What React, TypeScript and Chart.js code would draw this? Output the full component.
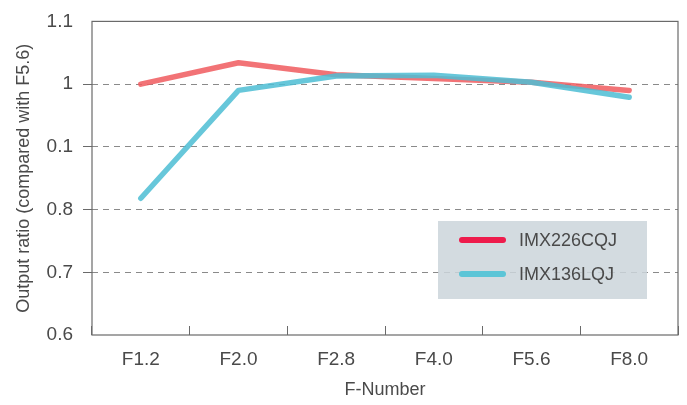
import React, { useEffect, useRef } from "react";
import { Chart, registerables } from "chart.js";

Chart.register(...registerables);

const CATEGORIES = ["F1.2", "F2.0", "F2.8", "F4.0", "F5.6", "F8.0"];
const SERIES_NAMES = ["IMX226CQJ", "IMX136LQJ"];
const IMX226CQJ = [1.0, 1.034, 1.015, 1.009, 1.003, 0.99];
const IMX136LQJ = [0.818, 0.99, 1.013, 1.014, 1.003, 0.979];
const Y_TICK_LABELS = ["0.6", "0.7", "0.8", "0.1", "1", "1.1"];
const LINE_COLORS = ["rgba(240,92,96,0.86)", "rgba(78,190,212,0.86)"];
const LEGEND_COLORS = ["#EE1C4C", "#5BC5D7"];

const FONT = "'Liberation Sans', Arial, sans-serif";
const TEXT = "#4a4a4a";

const framePlugin = {
  id: "frame",
  beforeDatasetsDraw(chart: any) {
    const { ctx, chartArea } = chart;
    ctx.save();
    ctx.strokeStyle = "#6a6a6a";
    ctx.lineWidth = 1.2;
    ctx.strokeRect(chartArea.left, chartArea.top, chartArea.right - chartArea.left, chartArea.bottom - chartArea.top);
    ctx.restore();
  },
  afterDatasetsDraw(chart: any) {
    const { ctx, chartArea } = chart;
    const w = 209, h = 78;
    const x = chartArea.right - 31 - w;
    const y = chartArea.bottom - 36 - h;
    ctx.save();
    ctx.fillStyle = "rgba(203,213,219,0.85)";
    ctx.fillRect(x, y, w, h);
    ctx.lineCap = "round";
    ctx.lineWidth = 6;
    ctx.font = `18px ${FONT}`;
    ctx.textBaseline = "middle";
    SERIES_NAMES.forEach((name, i) => {
      const ly = y + 19 + i * 34;
      ctx.strokeStyle = LEGEND_COLORS[i];
      ctx.beginPath();
      ctx.moveTo(x + 24, ly);
      ctx.lineTo(x + 65, ly);
      ctx.stroke();
      ctx.fillStyle = TEXT;
      ctx.fillText(name, x + 81, ly + 1);
    });
    ctx.restore();
  },
};

export default function App() {
  const ref = useRef<HTMLCanvasElement | null>(null);
  useEffect(() => {
    if (!ref.current) return;
    const chart = new Chart(ref.current, {
      type: "line",
      data: {
        labels: CATEGORIES,
        datasets: [
          {
            label: SERIES_NAMES[0],
            data: IMX226CQJ,
            borderColor: LINE_COLORS[0],
            borderWidth: 5.5,
            pointRadius: 0,
            borderCapStyle: "round",
            borderJoinStyle: "round",
            tension: 0,
            order: 1,
          },
          {
            label: SERIES_NAMES[1],
            data: IMX136LQJ,
            borderColor: LINE_COLORS[1],
            borderWidth: 5.5,
            pointRadius: 0,
            borderCapStyle: "round",
            borderJoinStyle: "round",
            tension: 0,
            order: 0,
          },
        ],
      },
      options: {
        animation: false,
        responsive: true,
        maintainAspectRatio: false,
        layout: { padding: { top: 20, right: 9, left: 0, bottom: 0 } },
        plugins: { legend: { display: false }, tooltip: { enabled: false } },
        scales: {
          x: {
            type: "category",
            offset: true,
            border: { display: false },
            grid: {
              offset: true,
              drawOnChartArea: false,
              drawTicks: true,
              tickLength: -9,
              tickColor: "#6a6a6a",
              tickWidth: 1,
            },
            ticks: { color: TEXT, font: { family: FONT, size: 19 }, padding: 22, maxRotation: 0 },
            title: {
              display: true,
              text: "F-Number",
              color: TEXT,
              font: { family: FONT, size: 18 },
              padding: { top: 0, bottom: 4 },
            },
            afterFit(scale: any) {
              scale.height = 70;
            },
          },
          y: {
            min: 0.6,
            max: 1.1,
            border: { display: false, dash: [6, 5] },
            grid: {
              color: (c: any) => (c.index === 0 || c.index === Y_TICK_LABELS.length - 1 ? "transparent" : "#8a8a8a"),
              tickColor: (c: any) => (c.index === 0 || c.index === Y_TICK_LABELS.length - 1 ? "transparent" : "#6a6a6a"),
              tickLength: 9,
              tickBorderDash: [],
              lineWidth: 1,
            },
            ticks: {
              stepSize: 0.1,
              color: TEXT,
              font: { family: FONT, size: 19 },
              padding: 10,
              callback: (_v: any, i: number) => Y_TICK_LABELS[i],
            },
            title: {
              display: true,
              text: "Output ratio (compared with F5.6)",
              color: TEXT,
              font: { family: FONT, size: 18 },
              padding: { top: 13, bottom: 0 },
            },
            afterFit(scale: any) {
              scale.width = 92;
            },
          },
        },
      },
      plugins: [framePlugin],
    } as any);
    return () => chart.destroy();
  }, []);
  return (
    <div style={{ position: "fixed", left: 0, top: 0, width: 687, height: 405, background: "#fff" }}>
      <canvas ref={ref} />
    </div>
  );
}
